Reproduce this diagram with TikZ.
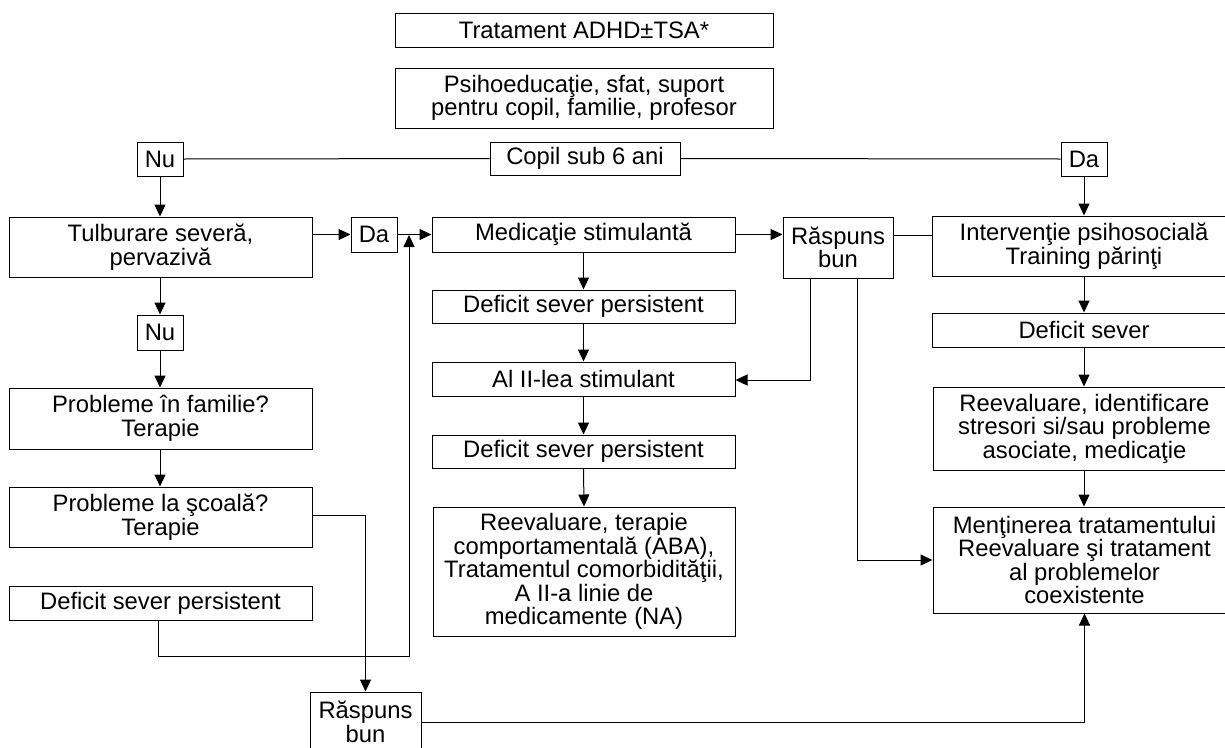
\documentclass[tikz,border=0pt]{standalone}
\usepackage{fontspec}
\setmainfont{Liberation Sans}
\usetikzlibrary{arrows.meta}
\newcommand{\bx}[6]{%
  \node[box, minimum width={(#4)-(#2)}, minimum height={(#5)-(#3)}] (#1) at ({((#2)+(#4))/2},{((#3)+(#5))/2}) {#6};}
\tikzset{
  box/.style={draw, line width=1pt, align=center, inner sep=0pt, anchor=center,
    font=\fontsize{23.8}{23.5}\selectfont},
  conn/.style={line width=1pt},
  arr/.style={line width=1pt, -{Triangle[length=12pt,width=11pt]}}
}
\begin{document}
\begin{tikzpicture}[x=1pt,y=-1pt]
\useasboundingbox (0,0) rectangle (1225,747);
% top
\bx{title}{395}{13}{773}{47}{Tratament ADHD±TSA*}
\bx{psi}{395}{68}{773}{128}{Psihoeducaţie, sfat, suport\\pentru copil, familie, profesor}
\bx{cop}{490}{142}{680}{175}{Copil sub 6 ani}
\bx{nu1}{137}{142}{183}{176}{Nu}
\bx{da1}{1061}{142}{1107}{176}{Da}
% left column
\bx{tulb}{9}{217}{312}{277}{Tulburare severă,\\pervazivă}
\bx{da2}{351}{217}{397}{252}{Da}
\bx{nu2}{137}{315}{183}{350}{Nu}
\bx{fam}{9}{388}{312}{449}{Probleme în familie?\\Terapie}
\bx{sco}{9}{487}{312}{547}{Probleme la şcoală?\\Terapie}
\bx{defl}{9}{586}{312}{620}{Deficit sever persistent}
\bx{rb2}{310}{692}{421}{752}{Răspuns\\bun}
% middle column
\bx{med}{432}{217}{735}{252}{Medicaţie stimulantă}
\bx{defa}{432}{290}{735}{323}{Deficit sever persistent}
\bx{al}{432}{362}{735}{396}{Al II-lea stimulant}
\bx{defb}{432}{435}{735}{468}{Deficit sever persistent}
\bx{reev}{433}{507}{735}{636}{Reevaluare, terapie\\comportamentală (ABA),\\Tratamentul comorbidităţii,\\A II-a linie de\\medicamente (NA)}
\bx{rb1}{783}{217}{893}{278}{Răspuns\\bun}
% right column
\bx{inter}{932}{216}{1236}{276}{Intervenţie psihosocială\\Training părinţi}
\bx{defs}{932}{313}{1236}{347}{Deficit sever}
\bx{reevi}{933}{387}{1236}{470}{Reevaluare, identificare\\stresori si/sau probleme\\asociate, medicaţie}
\bx{ment}{933}{507}{1236}{613}{Menţinerea tratamentului\\Reevaluare şi tratament\\al problemelor\\coexistente}
% helper coordinates
\coordinate (j) at (409,235);
\coordinate (jb) at (409,656);
\coordinate (dl) at (158,656);
\coordinate (ra) at (810,380);
\coordinate (rb) at (857,560);
\coordinate (rt1) at (810,278);
\coordinate (rt2) at (857,278);
\coordinate (ry) at (893,235);
\coordinate (iy) at (932,235);
% connectors top
\draw[conn] (nu1.east) -- (cop.west);
\draw[conn] (cop.east) -- (da1.west);
\draw[arr] (da1.south) -- (da1.south |- inter.north);
\draw[arr] (nu1.south) -- (nu1.south |- tulb.north);
% left
\draw[arr] (tulb.east |- da2.west) -- (da2.west);
\draw[arr] (da2.east) -- (med.west);
\draw[arr] (tulb.south -| nu2.north) -- (nu2.north);
\draw[arr] (nu2.south) -- (nu2.south |- fam.north);
\draw[arr] (fam.south -| nu2.south) -- (sco.north -| nu2.south);
\draw[arr] (dl |- defl.south) -- (dl) -- (jb) -- (j);
\draw[arr] (sco.east |- 0,515) -| (rb2.north);
\draw[arr] (rb2.east) -| (ment.south);
% middle
\draw[arr] (med.south) -- (defa.north);
\draw[arr] (defa.south) -- (al.north);
\draw[arr] (al.south) -- (defb.north);
\draw[arr] (defb.south) -- (reev.north);
\draw[arr] (med.east) -- (med.east -| rb1.west);
\draw[conn] (ry) -- (iy);
\draw[arr] (rt1) -- (ra) -- (ra -| al.east);
\draw[arr] (rt2) -- (rb) -- (rb -| ment.west);
% right
\draw[arr] (inter.south -| da1.south) -- (defs.north -| da1.south);
\draw[arr] (defs.south -| da1.south) -- (reevi.north -| da1.south);
\draw[arr] (reevi.south -| da1.south) -- (ment.north -| da1.south);
\end{tikzpicture}
\end{document}
